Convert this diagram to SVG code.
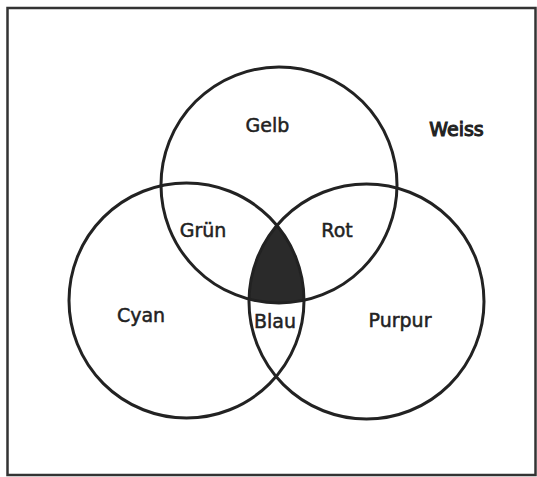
<svg xmlns="http://www.w3.org/2000/svg" width="537" height="477" viewBox="0 0 537 477">
<style>
.c{fill:none;stroke:#222;stroke-width:3}
.t{font-family:"DejaVu Sans","Liberation Sans",sans-serif;font-size:19px;fill:#222;stroke:#222;stroke-width:0.5;text-anchor:middle}
.b{stroke-width:1.1}
</style>
<defs>
<clipPath id="cl"><circle cx="186.5" cy="300.5" r="117.5"/></clipPath>
<clipPath id="cr"><circle cx="366.5" cy="301.5" r="117.5"/></clipPath>
</defs>
<rect x="0" y="0" width="537" height="477" fill="#fff"/>
<rect id="frame" x="7.5" y="8" width="528" height="467" fill="none" stroke="#333" stroke-width="2.5"/>
<g id="blackarea" clip-path="url(#cl)"><g clip-path="url(#cr)"><circle cx="279" cy="185" r="118" fill="#2a2a2a"/></g></g>
<g id="gelb"><circle class="c" cx="279" cy="185" r="118"/><text class="t" x="267.5" y="132">Gelb</text></g>
<g id="cyan"><circle class="c" cx="186.5" cy="300.5" r="117.5"/><text class="t" x="141" y="322">Cyan</text></g>
<g id="purpur"><circle class="c" cx="366.5" cy="301.5" r="117.5"/><text class="t" x="400" y="327">Purpur</text></g>
<g id="weiss"><text class="t b" x="456.5" y="136">Weiss</text></g>
<g id="gruen"><text class="t" x="203" y="237">Grün</text></g>
<g id="rot"><text class="t" x="337" y="237">Rot</text></g>
<g id="blau"><text class="t" x="275" y="328">Blau</text></g>
<g id="connectors"></g>
</svg>
